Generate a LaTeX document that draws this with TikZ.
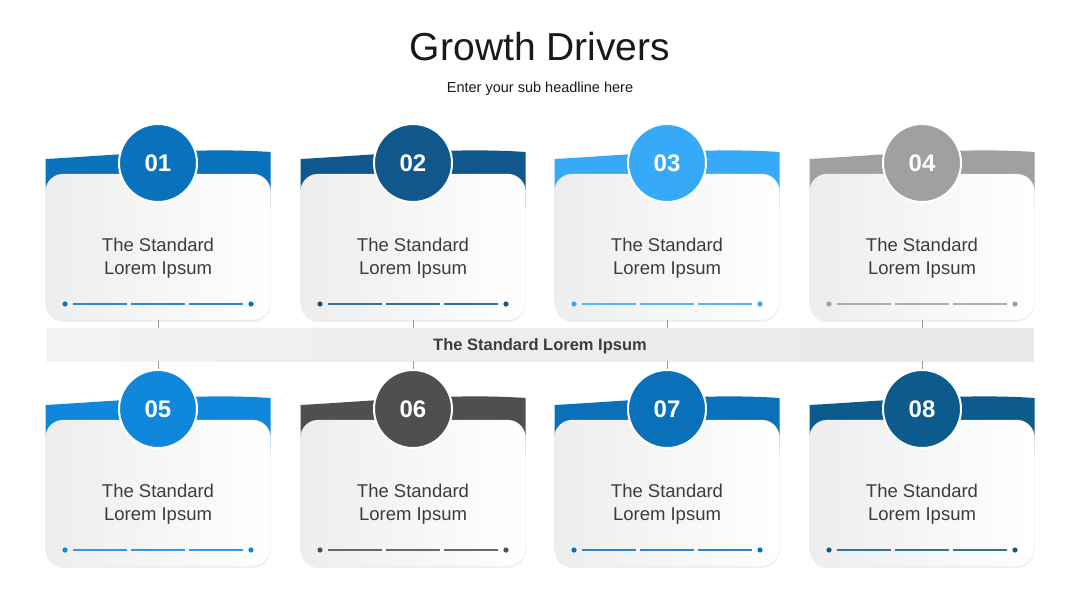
\documentclass[tikz,border=0pt]{standalone}
\usepackage{fontspec}
\setmainfont{Liberation Sans}
\usepackage{tikz}
\usetikzlibrary{positioning, shadows, calc}
\definecolor{blueA}{HTML}{0A72BC}
\definecolor{blueB}{HTML}{10578B}
\definecolor{blueC}{HTML}{36A9F7}
\definecolor{greyD}{HTML}{A0A0A0}
\definecolor{blueE}{HTML}{0F87DA}
\definecolor{greyF}{HTML}{4F4F4F}
\definecolor{blueG}{HTML}{0A70BA}
\definecolor{blueH}{HTML}{0D5A8C}
\definecolor{textgray}{HTML}{3C3C3C}
\definecolor{cardgray}{HTML}{EDEDED}
\definecolor{linegray}{HTML}{9A9A9A}

\begin{document}
\begin{tikzpicture}[
  x=1pt, y=-1pt,
  card/.style={rectangle, rounded corners=18pt, minimum width=225pt, minimum height=146pt, left color=cardgray, right color=white, draw=gray!10, drop shadow={opacity=0.12, shadow xshift=0pt, shadow yshift=-2pt}},
  badge/.style={circle, minimum size=78pt, draw=white, line width=2pt, text=white, font=\bfseries\fontsize{24}{28}\selectfont},
  label/.style={align=center, text=textgray, font=\fontsize{18.5}{23}\selectfont},
  strip/.style={rectangle, minimum width=987pt, minimum height=33pt, text height=11pt, text depth=0pt, left color=gray!10, right color=gray!18, text=textgray, font=\bfseries\fontsize{16.5}{20}\selectfont},
  link/.style={draw=linegray, line width=0.8pt}
]
  \useasboundingbox (0,0) rectangle (1080,608);
  \fill[white] (0,0) rectangle (1080,608);

  % heading
  \node[text=black!90, font=\fontsize{39}{45}\selectfont] (title) at (540,47) {Growth Drivers};
  \node[text=black!90, font=\fontsize{14.5}{17}\selectfont] (subtitle) at (540,89) {Enter your sub headline here};

  % cards
  \foreach \n/\x/\y/\col in {01/158/163/blueA, 02/413/163/blueB, 03/667/163/blueC, 04/922/163/greyD,
                             05/158/409/blueE, 06/413/409/greyF, 07/667/409/blueG, 08/922/409/blueH} {
    \fill[\col] (\x-112.5,\y-4) .. controls (\x-40,\y-8) and (\x+40,\y-16) .. (\x+112.5,\y-11)
      -- (\x+112.5,\y+45) -- (\x-112.5,\y+45) -- cycle;
    \node[card] (card\n) at (\x,\y+84) {};
    \node[badge, fill=\col] (badge\n) at (\x,\y) {\n};
    \node[label] (text\n) at (\x,\y+95) {The Standard\\Lorem Ipsum};
    \fill[\col] (\x-93,\y+141) circle (2.6);
    \fill[\col] (\x+93,\y+141) circle (2.6);
    \foreach \a in {-85,-27,31}
      \draw[\col!85, line width=1.2pt] (\x+\a,\y+141) -- (\x+\a+54,\y+141);
  }

  % middle band
  \node[strip] (strip) at (540,344.5) {The Standard Lorem Ipsum};

  \foreach \n in {01,02,03,04}
    \draw[link] (card\n.south) -- (card\n.south |- strip.north);
  \foreach \n in {05,06,07,08}
    \draw[link] (strip.south -| badge\n.north) -- (badge\n.north);
\end{tikzpicture}
\end{document}
